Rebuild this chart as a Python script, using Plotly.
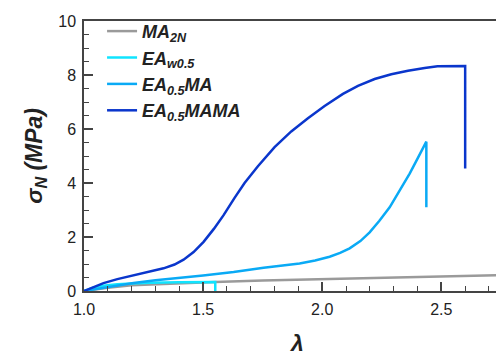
import plotly.graph_objects as go

# MA2N
lam_ma2n = [1.0, 1.1, 1.2, 1.35, 1.55, 1.75, 1.9, 2.0, 2.16, 2.3, 2.5, 2.65, 2.8]
sig_ma2n = [0.0, 0.12, 0.21, 0.27, 0.33, 0.39, 0.42, 0.44, 0.49, 0.51, 0.55, 0.58, 0.6]
# EAw0.5
lam_eaw = [1.0, 1.04, 1.09, 1.14, 1.2, 1.28, 1.4, 1.551, 1.551]
sig_eaw = [0.0, 0.13, 0.2, 0.25, 0.28, 0.31, 0.32, 0.33, 0.0]
# EA0.5MA
lam_eama = [1.0, 1.1, 1.208, 1.3, 1.418, 1.5, 1.628, 1.754, 1.905, 1.97, 2.031, 2.075, 2.115, 2.16, 2.199, 2.24, 2.283, 2.325, 2.367, 2.40, 2.437, 2.437]
sig_eama = [0.0, 0.15, 0.3, 0.4, 0.49, 0.57, 0.7, 0.86, 1.02, 1.13, 1.27, 1.41, 1.58, 1.85, 2.17, 2.6, 3.1, 3.7, 4.35, 4.9, 5.53, 3.1]
# EA0.5MAMA
lam_mama = [1.0, 1.04, 1.082, 1.14, 1.208, 1.27, 1.334, 1.38, 1.418, 1.46, 1.502, 1.545, 1.586, 1.632, 1.674, 1.73, 1.8, 1.87, 1.94, 2.01, 2.087, 2.15, 2.22, 2.29, 2.36, 2.43, 2.484, 2.6, 2.6]
sig_mama = [0.0, 0.15, 0.29, 0.44, 0.58, 0.7, 0.84, 0.98, 1.16, 1.44, 1.82, 2.3, 2.81, 3.45, 4.0, 4.62, 5.33, 5.91, 6.4, 6.85, 7.3, 7.6, 7.85, 8.03, 8.16, 8.26, 8.32, 8.33, 4.54]

series = [
    ("<b><i>MA<sub>2N</sub></i></b>", lam_ma2n, sig_ma2n, "#9a9a9a"),
    ("<b><i>EA<sub>w0.5</sub></i></b>", lam_eaw, sig_eaw, "#10e4ff"),
    ("<b><i>EA<sub>0.5</sub>MA</i></b>", lam_eama, sig_eama, "#0aaaf5"),
    ("<b><i>EA<sub>0.5</sub>MAMA</i></b>", lam_mama, sig_mama, "#0a36cc"),
]

fig = go.Figure()
for name, x, y, c in series:
    fig.add_trace(go.Scatter(x=x, y=y, mode="lines", name=name,
                             line=dict(color=c, width=2.5)))

# page body adds an 8px offset, so the figure is 8px smaller and shifted
fig.update_layout(
    width=496, height=347,
    margin=dict(l=76, r=0, t=13, b=63.5, autoexpand=False),
    paper_bgcolor="white", plot_bgcolor="white",
    font=dict(family="Arial, Liberation Sans", color="#222"),
    showlegend=True,
    legend=dict(x=0.043, y=1.03, xanchor="left", yanchor="top",
                bgcolor="rgba(0,0,0,0)", font=dict(size=18, color="#222"),
                tracegroupgap=0, itemwidth=30),
    annotations=[
        dict(text="<b><i>σ<sub>N</sub> (MPa)</i></b>", xref="paper", yref="paper",
             x=-0.117, y=0.50, textangle=-90, showarrow=False,
             xanchor="center", yanchor="middle", font=dict(size=23, color="#222")),
        dict(text="<b><i>λ</i></b>", xref="paper", yref="paper",
             x=0.507, y=-0.193, showarrow=False,
             xanchor="center", yanchor="middle", font=dict(size=23, color="#222")),
    ],
)
fig.update_xaxes(
    range=[1.0, 2.763], showgrid=False, zeroline=False, automargin=False,
    showline=True, linecolor="#444", linewidth=1.5, mirror=True,
    ticks="inside", ticklen=9, tickcolor="#444", tickwidth=1.5,
    tickvals=[1.0, 1.5, 2.0, 2.5], tickformat=".1f",
    tickfont=dict(size=16, color="#222"), ticklabelstandoff=3,
    minor=dict(dtick=0.1, ticks="inside", ticklen=5, tickcolor="#444", tickwidth=1.2),
)
fig.update_yaxes(
    range=[0, 10], showgrid=False, zeroline=False, automargin=False,
    showline=True, linecolor="#444", linewidth=1.5, mirror=False,
    ticks="inside", ticklen=9, tickcolor="#444", tickwidth=1.5,
    dtick=2, tickfont=dict(size=16, color="#222"), ticklabelstandoff=3,
    minor=dict(dtick=0.5, ticks="inside", ticklen=5, tickcolor="#444", tickwidth=1.2),
)

fig.write_html("out.html")
